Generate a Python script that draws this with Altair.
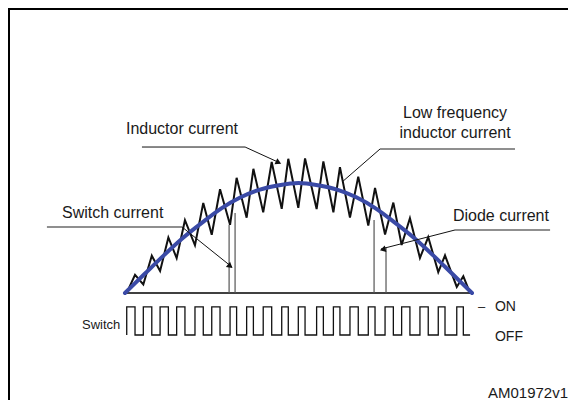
import altair as alt
import pandas as pd

# ---- data (x: line phase in degrees, y: normalized current) ----
blue_x = [0, 10, 20, 30, 40, 50, 60, 70, 80, 90, 100, 110, 120, 130, 140, 150, 160, 170, 180]
blue_y = [0, 0.17, 0.34, 0.50, 0.64, 0.77, 0.87, 0.94, 0.98, 1.0, 0.98, 0.94, 0.87, 0.77, 0.64, 0.50, 0.34, 0.17, 0]

sw_on = [0.9, 9.5, 18.2, 26.8, 36.3, 45.0, 54.5, 63.1, 71.7, 81.3, 89.9, 99.4, 108.1, 116.7, 126.2, 134.9, 143.5, 153.0, 162.5, 172.1]
sw_off = [5.2, 13.9, 22.5, 31.1, 40.6, 49.3, 57.9, 66.6, 76.1, 84.7, 93.4, 102.9, 111.5, 121.0, 129.7, 139.2, 147.8, 157.3, 166.0, 175.5]
sw_end = 179.0
i_valley = [0.0, 0.078, 0.20, 0.317, 0.434, 0.53, 0.62, 0.685, 0.733, 0.765, 0.775, 0.763, 0.734, 0.686, 0.614, 0.532, 0.436, 0.319, 0.19, 0.055]
i_peak = [0.165, 0.339, 0.505, 0.662, 0.819, 0.943, 1.047, 1.129, 1.191, 1.22, 1.223, 1.196, 1.144, 1.058, 0.956, 0.822, 0.68, 0.509, 0.342, 0.152]

sw_high = -0.127
sw_low = -0.382

vert_x = [54.0, 57.1, 129.2, 135.4]
vert_top = [0.62, 0.727, 0.664, 0.418]

label_text = ["Inductor current", "Switch current", "Low frequency", "inductor current",
              "Diode current", "Switch", "–", "ON", "OFF", "AM01972v1"]
label_x = [0.5, -32.7, 171.2, 171.2, 170.1, -22.3, 183.1, 191.9, 191.9, 188.3]
label_y = [1.491, 0.727, 1.636, 1.455, 0.70, -0.291, -0.127, -0.127, -0.40, -0.909]
label_align = ["left", "left", "center", "center", "left", "left", "left", "left", "left", "left"]
label_size = [16, 16, 16, 16, 16, 13, 13, 14, 14, 15]

# leader lines: grey horizontal parts and black slanted parts
grey_seg = ["sw", "sw", "lf", "lf", "di", "di"]
grey_x = [-40.5, 29.6, 132.3, 202.3, 171.2, 220.5]
grey_y = [0.60, 0.60, 1.309, 1.309, 0.573, 0.573]

black_seg = ["in", "in", "in", "sw", "sw", "lf", "lf", "di", "di"]
black_x = [8.8, 62.3, 80.4, 29.6, 55.5, 132.3, 112.6, 171.2, 132.8]
black_y = [1.327, 1.327, 1.182, 0.60, 0.236, 1.309, 1.009, 0.573, 0.40]

arrow_x = [79.2, 54.2, 134.2]
arrow_y = [1.19, 0.25, 0.397]
arrow_angle = [115, 129, 256]

# ---- build tables ----
W, H = 560, 392
xs = alt.Scale(domain=[-60.69, 229.80], nice=False, zero=False)
ys = alt.Scale(domain=[-0.9727, 2.5909], nice=False, zero=False)

zx, zy = [], []
for k in range(len(sw_on)):
    zx += [sw_on[k], sw_off[k]]
    zy += [i_valley[k], i_peak[k]]
zx.append(sw_end)
zy.append(0.0)
zig = pd.DataFrame({"x": zx, "y": zy, "o": range(len(zx))})

px, py = [], []
for k in range(len(sw_on)):
    px += [sw_on[k], sw_on[k], sw_off[k], sw_off[k]]
    py += [sw_low, sw_high, sw_high, sw_low]
px.append(sw_end)
py.append(sw_low)
sw = pd.DataFrame({"x": px, "y": py, "o": range(len(px))})

blue = pd.DataFrame({"x": blue_x, "y": blue_y})
base = pd.DataFrame({"x": [0, 180], "y": [0, 0]})
verts = pd.DataFrame({"x": vert_x, "y0": [0] * len(vert_x), "y1": vert_top})
labels = pd.DataFrame({"t": label_text, "x": label_x, "y": label_y})
grey = pd.DataFrame({"s": grey_seg, "x": grey_x, "y": grey_y, "o": range(len(grey_x))})
black = pd.DataFrame({"s": black_seg, "x": black_x, "y": black_y, "o": range(len(black_x))})

X = lambda f="x": alt.X(f, type="quantitative", scale=xs, axis=None)
Y = lambda f="y": alt.Y(f, type="quantitative", scale=ys, axis=None)

frame_left = alt.Chart(base).mark_rule(color="black", strokeWidth=2).encode(
    x=alt.value(1), y=alt.value(0), y2=alt.value(H))
frame_top = alt.Chart(base).mark_rule(color="black", strokeWidth=2).encode(
    y=alt.value(1), x=alt.value(0), x2=alt.value(W))

baseline = alt.Chart(base).mark_line(color="black", strokeWidth=1.5).encode(x=X(), y=Y())
vlines = alt.Chart(verts).mark_rule(color="#555555", strokeWidth=1.2).encode(
    x=X(), y=Y("y0"), y2="y1")
zigl = alt.Chart(zig).mark_line(color="#111111", strokeWidth=2).encode(
    x=X(), y=Y(), order="o:Q")
bluel = alt.Chart(blue).mark_line(color="#3a4aa6", strokeWidth=4, interpolate="monotone",
                                  strokeCap="round").encode(x=X(), y=Y())
swl = alt.Chart(sw).mark_line(color="#111111", strokeWidth=1.3).encode(
    x=X(), y=Y(), order="o:Q")
greyl = alt.Chart(grey).mark_line(color="#8f8f8f", strokeWidth=2).encode(
    x=X(), y=Y(), detail="s:N", order="o:Q")
blackl = alt.Chart(black).mark_line(color="#111111", strokeWidth=1).encode(
    x=X(), y=Y(), detail="s:N", order="o:Q")

arrows = []
for ax_, ay_, ang in zip(arrow_x, arrow_y, arrow_angle):
    d = pd.DataFrame({"x": [ax_], "y": [ay_]})
    arrows.append(alt.Chart(d).mark_point(shape="triangle", filled=True, color="#111111",
                                          size=45, angle=ang, opacity=1).encode(x=X(), y=Y()))

texts = []
for i in range(len(label_text)):
    d = labels.iloc[[i]]
    texts.append(alt.Chart(d).mark_text(align=label_align[i], baseline="middle",
                                        font="Liberation Sans", fontSize=label_size[i],
                                        color="#1a1a1a").encode(x=X(), y=Y(), text="t:N"))

chart = alt.layer(frame_left, frame_top, baseline, vlines, zigl, bluel, swl, greyl, blackl,
                  *arrows, *texts).properties(
    width=W, height=H, padding=0, autosize=alt.AutoSizeParams(type="none")
).configure_view(stroke=None).configure(background="white")

chart.save("out.html", embed_options={"renderer": "svg", "actions": False})
